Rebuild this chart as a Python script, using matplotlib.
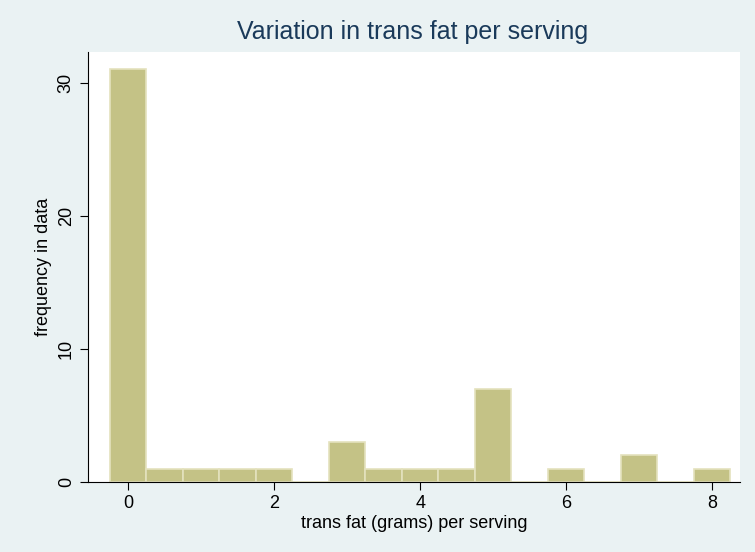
import matplotlib
matplotlib.use("Agg")
import matplotlib.pyplot as plt

plt.rcParams['font.family'] = ['Liberation Sans', 'DejaVu Sans']

bin_centers = [0, 0.5, 1, 1.5, 2, 2.5, 3, 3.5, 4, 4.5, 5, 5.5, 6, 6.5, 7, 7.5, 8]
counts = [31, 1, 1, 1, 1, 0, 3, 1, 1, 1, 7, 0, 1, 0, 2, 0, 1]
xticks = [0, 2, 4, 6, 8]
yticks = [0, 10, 20, 30]

bg = "#EAF2F3"
fig = plt.figure(figsize=(7.55, 5.52), dpi=100, facecolor=bg)
ax = fig.add_axes([0.1166, 0.127, 0.8634, 0.779])
ax.set_facecolor("white")
ax.bar(bin_centers, counts, width=0.5, color="#C4C286", edgecolor="#E4E2BE", linewidth=1.2)
ax.set_xlim(-0.55, 8.38)
ax.set_ylim(0, 32.3)
ax.set_xticks(xticks)
ax.set_yticks(yticks)
ax.tick_params(axis="y", labelrotation=90, labelsize=13, length=6)
ax.tick_params(axis="x", labelsize=13, length=6)
for lab in ax.get_yticklabels():
    lab.set_va("center")
for s in ["top", "right"]:
    ax.spines[s].set_visible(False)
ax.set_xlabel("trans fat (grams) per serving", fontsize=13, labelpad=2)
ax.set_ylabel("frequency in data", fontsize=13)
fig.text(0.547, 0.93, "Variation in trans fat per serving", ha="center", fontsize=18, color="#1A3A5A")
fig.savefig("out.png", dpi=100, facecolor=bg)
